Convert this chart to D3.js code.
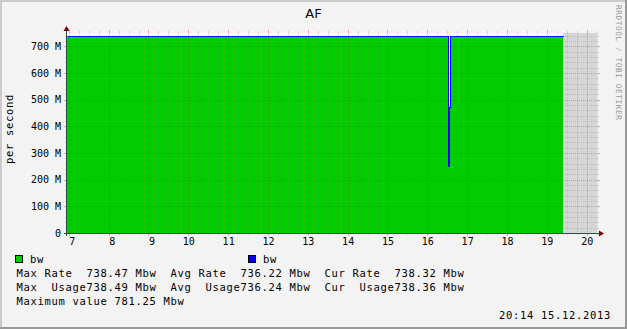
<!DOCTYPE html>
<html>
<head>
<meta charset="utf-8">
<script src="https://cdn.jsdelivr.net/npm/d3@7"></script>
<style>
    html, body { margin: 0; padding: 0; background: #f3f3f3; }
    svg { display: block; }
    text { font-family: "DejaVu Sans Mono", monospace; fill: #000; }
</style>
</head>
<body>
<div class="chart_container"></div>
<script>
//^ DATA //
const chartTitle = "AF";
const unitLabel = "per second";
const watermark = "RRDTOOL / TOBI OETIKER";
const timeSpan = [6.955, 20.26]; // hours of the day shown
const sampleHours = [6.955, 8.2, 9.6, 11.1, 12.4, 13.9, 15.3, 16.521, 16.546, 16.571, 17.4, 18.6, 19.408];
const bwMbit = [737.9, 738.2, 737.6, 738.0, 738.3, 737.8, 738.1, 250, 470, 738.2, 737.9, 738.3, 738.3];
const xTickHours = [7, 8, 9, 10, 11, 12, 13, 14, 15, 16, 17, 18, 19, 20];
const yTickValues = [0, 100, 200, 300, 400, 500, 600, 700];
const yTickLabels = ["0", "100 M", "200 M", "300 M", "400 M", "500 M", "600 M", "700 M"];
const yMax = 750;
const legendNames = ["bw", "bw"];
const legendColors = ["#00cc00", "#0000ff"];
const statLines = [
    "Max Rate  738.47 Mbw  Avg Rate  736.22 Mbw  Cur Rate  738.32 Mbw",
    "Max  Usage738.49 Mbw  Avg  Usage736.24 Mbw  Cur  Usage738.36 Mbw",
    "Maximum value 781.25 Mbw"
];
const stampText = "20:14 15.12.2013";

//^ DIMENSIONS //
const width = 627;
const height = 329;
const plot = { left: 67, top: 33, right: 597, bottom: 233 };

const svg = d3.select(".chart_container").append("svg").attr("width", width).attr("height", height);

//^ BACKGROUND + 3D BORDER //
svg.append("rect").attr("width", width).attr("height", height).attr("fill", "#f3f3f3");
svg.append("rect").attr("x", 0).attr("y", 0).attr("width", width).attr("height", 2).attr("fill", "#cbcbcb");
svg.append("rect").attr("x", 0).attr("y", 0).attr("width", 2).attr("height", height).attr("fill", "#cbcbcb");
svg.append("rect").attr("x", 0).attr("y", height - 2).attr("width", width).attr("height", 2).attr("fill", "#999999");
svg.append("rect").attr("x", width - 2).attr("y", 0).attr("width", 2).attr("height", height).attr("fill", "#999999");

//^ SCALES //
const xScale = d3.scaleLinear().domain(timeSpan).range([plot.left, plot.right]);
const yScale = d3.scaleLinear().domain([0, yMax]).range([plot.bottom, plot.top]);

//^ CANVAS //
svg.append("rect")
    .attr("x", plot.left).attr("y", plot.top)
    .attr("width", plot.right - plot.left).attr("height", plot.bottom - plot.top)
    .attr("fill", "#ffffff");

//^ UNKNOWN DATA (after last sample) //
const lastHour = sampleHours[sampleHours.length - 1];
svg.append("rect")
    .attr("x", xScale(lastHour)).attr("y", yScale(yMax))
    .attr("width", xScale(timeSpan[1]) - xScale(lastHour))
    .attr("height", yScale(0) - yScale(yMax))
    .attr("fill", "#d6d6d6");

//^ AREA + LINE //
const series = sampleHours.map((h, i) => [h, bwMbit[i]]);
const area = d3.area().x((d) => xScale(d[0])).y0(yScale(0)).y1((d) => yScale(d[1])).curve(d3.curveStepAfter);
const line = d3.line().x((d) => xScale(d[0])).y((d) => yScale(d[1])).curve(d3.curveStepAfter);

svg.append("path").datum(series).attr("d", area).attr("fill", "#00cc00").attr("shape-rendering", "crispEdges");
svg.append("path").datum(series).attr("d", line)
    .attr("fill", "none").attr("stroke", "#0000ff").attr("stroke-width", 1)
    .attr("shape-rendering", "crispEdges").attr("transform", "translate(0.5,0)");

//^ GRID //
const gridColor = "rgba(140,140,140,0.32)";
const mgridColor = "rgba(200,30,30,0.35)";
const grid = svg.append("g").attr("shape-rendering", "crispEdges");

const minorHours = d3.range(28, 82).map((q) => q / 4).filter((h) => h % 1 !== 0 && h > timeSpan[0] && h < timeSpan[1]);
const minorValues = d3.range(20, yMax, 20).filter((v) => v % 100 !== 0);

function vLine(xp, color, tick) {
    const xx = Math.round(xp) + 0.5;
    grid.append("line").attr("x1", xx).attr("x2", xx).attr("y1", plot.top).attr("y2", plot.bottom)
        .attr("stroke", color).attr("stroke-dasharray", "1,1");
    grid.append("line").attr("x1", xx).attr("x2", xx).attr("y1", plot.top - tick).attr("y2", plot.top).attr("stroke", color);
    grid.append("line").attr("x1", xx).attr("x2", xx).attr("y1", plot.bottom).attr("y2", plot.bottom + tick).attr("stroke", color);
}
function hLine(yp, color, tick) {
    const yy = Math.round(yp) + 0.5;
    grid.append("line").attr("x1", plot.left).attr("x2", plot.right).attr("y1", yy).attr("y2", yy)
        .attr("stroke", color).attr("stroke-dasharray", "1,1");
    grid.append("line").attr("x1", plot.left - tick).attr("x2", plot.left).attr("y1", yy).attr("y2", yy).attr("stroke", color);
    grid.append("line").attr("x1", plot.right).attr("x2", plot.right + tick).attr("y1", yy).attr("y2", yy).attr("stroke", color);
}
minorHours.forEach((h) => vLine(xScale(h), gridColor, 2));
minorValues.forEach((v) => hLine(yScale(v), gridColor, 2));
xTickHours.forEach((h) => vLine(xScale(h), mgridColor, 3));
yTickValues.filter((v) => v > 0).forEach((v) => hLine(yScale(v), mgridColor, 3));

//^ AXES LINES + ARROWS //
const axisColor = "#2c4d43";
svg.append("line").attr("x1", plot.left - 3).attr("x2", plot.right + 4)
    .attr("y1", plot.bottom + 0.5).attr("y2", plot.bottom + 0.5).attr("stroke", axisColor);
svg.append("line").attr("x1", plot.left - 0.5).attr("x2", plot.left - 0.5)
    .attr("y1", plot.bottom + 3).attr("y2", plot.top - 3).attr("stroke", axisColor);
svg.append("path").attr("d", `M${plot.left - 3.5},${plot.top - 2}L${plot.left + 2.5},${plot.top - 2}L${plot.left - 0.5},${plot.top - 7}Z`).attr("fill", "#7f0000");
svg.append("path").attr("d", `M${plot.right + 2},${plot.bottom - 2.5}L${plot.right + 2},${plot.bottom + 3.5}L${plot.right + 7},${plot.bottom + 0.5}Z`).attr("fill", "#7f0000");

//^ AXIS LABELS //
const xAxis = d3.axisBottom(xScale).tickValues(xTickHours).tickSize(0)
    .tickFormat((h) => (h < 10 ? " " + h : "" + h));
const gx = svg.append("g").attr("transform", `translate(0,${plot.bottom})`).call(xAxis);
gx.select(".domain").remove();
gx.selectAll("text").attr("y", 12).attr("dy", null)
    .attr("font-family", "DejaVu Sans Mono").attr("font-size", 10).style("white-space", "pre");

const yAxis = d3.axisLeft(yScale).tickValues(yTickValues).tickSize(0)
    .tickFormat((v, i) => yTickLabels[i]);
const gy = svg.append("g").attr("transform", `translate(${plot.left},0)`).call(yAxis);
gy.select(".domain").remove();
gy.selectAll("text").attr("x", -6).attr("dy", "0.32em")
    .attr("font-family", "DejaVu Sans Mono").attr("font-size", 10);

//^ TITLE / UNIT / WATERMARK //
svg.append("text").attr("x", width / 2).attr("y", 18).attr("text-anchor", "middle")
    .style("font-family", "'DejaVu Sans', sans-serif").attr("font-size", 13).text(chartTitle);
svg.append("text").attr("transform", `translate(13,${(plot.top + plot.bottom) / 2 - 4}) rotate(-90)`)
    .attr("text-anchor", "middle").attr("font-size", 10.5).attr("letter-spacing", 0.68).text(unitLabel);
svg.append("text").attr("transform", "translate(616,5) rotate(90)")
    .attr("font-size", 7.8).attr("letter-spacing", 0.55).style("fill", "#999999").text(watermark);

//^ LEGEND //
const legendX = [15, 248];
legendNames.forEach((name, i) => {
    svg.append("rect").attr("x", legendX[i] + 0.5).attr("y", 255.5).attr("width", 7).attr("height", 7)
        .attr("fill", legendColors[i]).attr("stroke", "#000").attr("stroke-width", 1);
    svg.append("text").attr("x", legendX[i] + 15).attr("y", 263)
        .attr("font-size", 10.5).attr("letter-spacing", 0.68).text(name);
});
statLines.forEach((s, i) => {
    svg.append("text").attr("x", 16.5).attr("y", 277 + i * 14)
        .attr("font-size", 10.5).attr("letter-spacing", 0.68)
        .attr("xml:space", "preserve").style("white-space", "pre").text(s);
});
svg.append("text").attr("x", 611).attr("y", 319).attr("text-anchor", "end")
    .attr("font-size", 10.5).attr("letter-spacing", 0.68).text(stampText);
</script>
</body>
</html>
